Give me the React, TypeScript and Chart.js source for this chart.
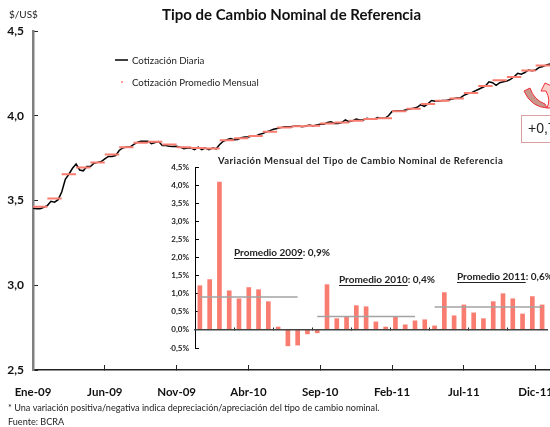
import React, { useEffect, useRef } from "react";
import { Chart, registerables } from "chart.js";

Chart.register(...registerables);

const FONT = "Lato, 'Open Sans', sans-serif";
const RED = "#f97c70";

const tickLabels = ["Ene-09", "Jun-09", "Nov-09", "Abr-10", "Sep-10", "Feb-11", "Jul-11", "Dic-11"];
const dailyValues = [
  3.455, 3.452, 3.452, 3.46, 3.47, 3.495, 3.49, 3.505, 3.55, 3.625, 3.655, 3.69, 3.715, 3.68, 3.675, 3.7,
  3.7, 3.72, 3.725, 3.73, 3.745, 3.76, 3.76, 3.765, 3.795, 3.81, 3.815, 3.815, 3.83, 3.843, 3.85, 3.85,
  3.85, 3.835, 3.842, 3.848, 3.825, 3.825, 3.82, 3.818, 3.82, 3.815, 3.805, 3.81, 3.81, 3.8, 3.815, 3.8,
  3.81, 3.8, 3.81, 3.805, 3.83, 3.85, 3.858, 3.865, 3.858, 3.86, 3.87, 3.875, 3.875, 3.88, 3.88, 3.89,
  3.895, 3.905, 3.912, 3.92, 3.925, 3.93, 3.935, 3.935, 3.935, 3.94, 3.94, 3.935, 3.94, 3.945, 3.94, 3.945,
  3.95, 3.95, 3.96, 3.965, 3.955, 3.955, 3.96, 3.975, 3.965, 3.97, 3.98, 3.975, 3.975, 3.985, 3.98, 3.98,
  3.99, 3.985, 3.985, 4.0, 4.025, 4.03, 4.03, 4.03, 4.035, 4.04, 4.045, 4.05, 4.065, 4.055, 4.07, 4.09,
  4.085, 4.085, 4.09, 4.09, 4.095, 4.1, 4.105, 4.105, 4.12, 4.13, 4.135, 4.145, 4.155, 4.165, 4.175, 4.2,
  4.195, 4.18, 4.195, 4.2, 4.205, 4.215, 4.23, 4.25, 4.245, 4.255, 4.27, 4.265, 4.27, 4.285, 4.29, 4.3, 4.305,
];
const monthlyAverage = [
  3.463, 3.512, 3.655, 3.694, 3.724, 3.771, 3.814, 3.84, 3.847, 3.83, 3.814, 3.81,
  3.807, 3.855, 3.867, 3.881, 3.905, 3.93, 3.938, 3.941, 3.955, 3.96, 3.97, 3.981,
  3.985, 4.026, 4.042, 4.07, 4.089, 4.102, 4.134, 4.175, 4.21, 4.228, 4.267, 4.296,
];
const monthlyChange = [
  1.22, 1.39, 4.08, 1.08, 0.86, 1.17, 1.11, 0.78, 0.08, -0.44, -0.42, -0.11,
  -0.08, 1.25, 0.31, 0.36, 0.67, 0.64, 0.22, 0.08, 0.36, 0.14, 0.25, 0.28,
  0.11, 1.03, 0.39, 0.69, 0.47, 0.31, 0.78, 1.0, 0.86, 0.44, 0.92, 0.69,
];
const averageSpans = [
  { from: 0, to: 10, value: 0.91 },
  { from: 12, to: 22, value: 0.37 },
  { from: 24, to: 35, value: 0.63 },
];
const averageLabels = [
  { year: "Promedio 2009", rest: ": 0,9%", x: 64, y: 103 },
  { year: "Promedio 2010", rest: ": 0,4%", x: 169, y: 130 },
  { year: "Promedio 2011", rest: ": 0,6%", x: 287, y: 127 },
];

const SAMPLES_PER_MONTH = 4;
const SAMPLES_PER_TICK = 20;

const mainDecor = {
  id: "mainDecor",
  afterDraw(chart: any) {
    const c = chart.ctx;
    c.save();
    c.textBaseline = "middle";
    c.textAlign = "left";
    c.fillStyle = "#222";
    c.font = `10px ${FONT}`;
    c.fillText("$/US$", 9, 15);
    // legend
    c.strokeStyle = "#000";
    c.lineWidth = 1.5;
    c.beginPath();
    c.moveTo(115, 60);
    c.lineTo(128, 60);
    c.stroke();
    c.fillStyle = RED;
    c.globalAlpha = 0.7;
    c.fillRect(121, 81, 2, 2);
    c.globalAlpha = 1;
    c.fillStyle = "#222";
    c.font = `9.7px ${FONT}`;
    c.fillText("Cotización Diaria", 132, 60.5);
    c.fillText("Cotización Promedio Mensual", 132, 82.5);
    // footnotes
    c.font = `9.1px ${FONT}`;
    c.fillText("* Una variación positiva/negativa indica depreciación/apreciación del tipo de cambio nominal.", 8, 408);
    c.fillText("Fuente: BCRA", 8, 422);
    // curved arrow
    c.strokeStyle = "#f0303a";
    c.lineWidth = 1;
    c.fillStyle = "#c9968c";
    c.beginPath();
    c.moveTo(524, 91);
    c.lineTo(530, 88);
    c.quadraticCurveTo(534, 100, 545, 104);
    c.lineTo(547, 108);
    c.quadraticCurveTo(531, 107, 524, 91);
    c.closePath();
    c.fill();
    c.stroke();
    c.fillStyle = "#fbcfca";
    c.beginPath();
    c.moveTo(547, 108);
    c.quadraticCurveTo(551, 100, 546, 91);
    c.lineTo(541, 91);
    c.lineTo(545, 83);
    c.lineTo(556, 88);
    c.lineTo(553, 108);
    c.closePath();
    c.fill();
    c.stroke();
    // box
    c.strokeStyle = "#d9a0a0";
    c.lineWidth = 1;
    c.strokeRect(521.5, 115.5, 50, 27);
    c.fillStyle = "#222";
    c.font = `14px 'Liberation Sans', Arial, sans-serif`;
    c.fillText("+0,7%", 528, 129);
    c.restore();
  },
};

const insetDecor = {
  id: "insetDecor",
  afterDraw(chart: any) {
    const c = chart.ctx;
    c.save();
    c.textBaseline = "middle";
    c.textAlign = "left";
    c.fillStyle = "#222";
    c.font = `bold 9.5px ${FONT}`;
    c.letterSpacing = "0.45px";
    c.fillText("Variación Mensual del Tipo de Cambio Nominal de Referencia", 48, 11);
    c.letterSpacing = "0px";
    c.font = `bold 10px ${FONT}`;
    averageLabels.forEach((l) => {
      c.fillStyle = "#222";
      c.fillText(l.year, l.x, l.y);
      const w = c.measureText(l.year).width;
      c.fillText(l.rest, l.x + w, l.y);
      c.strokeStyle = "#222";
      c.lineWidth = 1;
      c.beginPath();
      c.moveTo(l.x, l.y + 5.5);
      c.lineTo(l.x + w, l.y + 5.5);
      c.stroke();
    });
    c.restore();
  },
};

const noPad = (a: any) => {
  a.paddingLeft = 0;
  a.paddingRight = 0;
  a.paddingTop = 0;
  a.paddingBottom = 0;
};

export default function App() {
  const mainRef = useRef<HTMLCanvasElement>(null);
  const insetRef = useRef<HTMLCanvasElement>(null);

  useEffect(() => {
    const monthlySegments: any[] = [];
    monthlyAverage.forEach((v, i) => {
      monthlySegments.push({ x: i * SAMPLES_PER_MONTH, y: v });
      monthlySegments.push({ x: (i + 1) * SAMPLES_PER_MONTH, y: v });
      monthlySegments.push({ x: (i + 1) * SAMPLES_PER_MONTH, y: null });
    });

    const main = new Chart(mainRef.current!, {
      type: "line",
      data: {
        datasets: [
          {
            label: "Cotización Promedio Mensual",
            data: monthlySegments,
            borderColor: RED,
            borderWidth: 2,
            pointRadius: 0,
            spanGaps: false,
            order: 0,
          },
          {
            label: "Cotización Diaria",
            data: dailyValues.map((y, x) => ({ x, y })),
            borderColor: "#000",
            borderWidth: 1.5,
            pointRadius: 0,
            order: 1,
          },
        ],
      },
      options: {
        animation: false,
        responsive: false,
        layout: { padding: 0 },
        plugins: {
          legend: { display: false },
          tooltip: { enabled: false },
          title: {
            display: true,
            fullSize: false,
            text: "Tipo de Cambio Nominal de Referencia",
            color: "#111",
            font: { family: FONT, size: 15, weight: "bold" },
            padding: { top: 6, bottom: 7 },
          },
        },
        scales: {
          x: {
            type: "linear",
            min: 0,
            max: dailyValues.length - 1,
            afterFit: (a: any) => { a.height = 57; noPad(a); },
            afterBuildTicks: (a: any) => {
              a.ticks = tickLabels.map((_, i) => ({ value: i * SAMPLES_PER_TICK }));
            },
            border: { color: "#222", width: 1.5 },
            grid: { drawOnChartArea: false, tickLength: -5, tickColor: "#222", tickWidth: 1 },
            ticks: {
              autoSkip: false,
              maxRotation: 0,
              padding: 20,
              color: "#111",
              font: { family: FONT, size: 11.5, weight: "bold" },
              callback: (_v: any, i: number) => tickLabels[i],
            },
          },
          y: {
            min: 2.5,
            max: 4.5,
            afterFit: (a: any) => { a.width = 33; noPad(a); },
            border: { color: "#808080", width: 2.5 },
            grid: { drawOnChartArea: false, tickLength: -5, tickColor: "#222", tickWidth: 1 },
            ticks: {
              stepSize: 0.5,
              padding: 14,
              color: "#111",
              font: { family: FONT, size: 12, weight: "bold" },
              callback: (v: any) => Number(v).toFixed(1).replace(".", ","),
            },
          },
        },
      },
      plugins: [mainDecor],
    } as any);

    const spanSeries = averageSpans.map((s) =>
      monthlyChange.map((_, i) => (i >= s.from && i <= s.to ? s.value : null))
    );

    const inset = new Chart(insetRef.current!, {
      type: "bar",
      data: {
        labels: monthlyChange.map((_, i) => String(i)),
        datasets: [
          ...spanSeries.map((d) => ({
            type: "line",
            data: d,
            borderColor: "#a3a3a3",
            borderWidth: 1.5,
            pointRadius: 0,
            spanGaps: false,
            order: 0,
          })),
          { type: "bar", data: monthlyChange, backgroundColor: RED, barThickness: 4, order: 1 },
        ],
      },
      options: {
        animation: false,
        responsive: false,
        layout: { padding: { top: 17, right: 3, bottom: 12, left: 0 } },
        plugins: { legend: { display: false }, tooltip: { enabled: false } },
        scales: {
          x: {
            position: { y: 0 },
            afterFit: (a: any) => { a.height = 0; noPad(a); },
            border: { color: "#444", width: 1.5, z: 1 },
            grid: {
              drawOnChartArea: false,
              offset: true,
              tickLength: -3,
              tickColor: (ctx: any) => (ctx.index % 4 === 0 ? "#222" : "rgba(0,0,0,0)"),
            },
            ticks: { display: false, autoSkip: false, maxRotation: 0 },
          },
          y: {
            min: -0.5,
            max: 4.5,
            afterFit: (a: any) => { a.width = 25; noPad(a); },
            border: { color: "#000", width: 1 },
            grid: { drawOnChartArea: false, tickLength: -4, tickColor: "#000" },
            ticks: {
              stepSize: 0.5,
              padding: 10,
              color: "#222",
              font: { family: FONT, size: 8, weight: "bold" },
              callback: (v: any) => Number(v).toFixed(1).replace(".", ",") + "%",
            },
          },
        },
      },
      plugins: [insetDecor],
    } as any);

    return () => {
      main.destroy();
      inset.destroy();
    };
  }, []);

  return (
    <div style={{ position: "absolute", left: 0, top: 0, width: 550, height: 427, overflow: "hidden", background: "#fff" }}>
      <canvas ref={mainRef} width={550} height={427} style={{ position: "absolute", left: 0, top: 0 }} />
      <canvas ref={insetRef} width={380} height={210} style={{ position: "absolute", left: 170, top: 150 }} />
    </div>
  );
}
